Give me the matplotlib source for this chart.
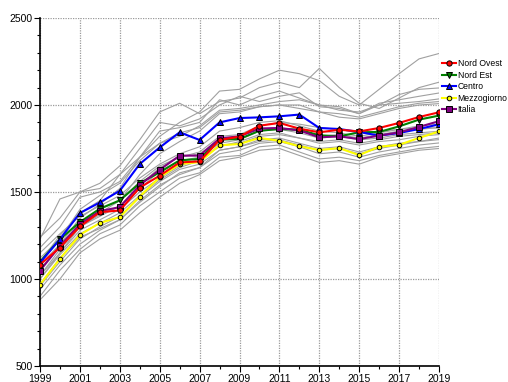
import matplotlib
matplotlib.use('Agg')
import matplotlib.pyplot as plt
from matplotlib.ticker import MultipleLocator

plt.rcParams['font.family'] = ['Liberation Sans', 'DejaVu Sans']

years = list(range(1999, 2020))

nord_ovest = [1083, 1181, 1302, 1384, 1394, 1525, 1594, 1670, 1676, 1799, 1818, 1881, 1897, 1864, 1843,
              1858, 1848, 1868, 1897, 1931, 1958]
nord_est = [1099, 1229, 1327, 1404, 1452, 1551, 1613, 1682, 1690, 1801, 1805, 1852, 1862, 1858, 1826,
            1820, 1843, 1845, 1877, 1916, 1939]
centro = [1093, 1229, 1379, 1440, 1507, 1661, 1756, 1843, 1799, 1900, 1925, 1929, 1935, 1945, 1868,
          1862, 1845, 1824, 1839, 1862, 1889]
mezzogiorno = [968, 1116, 1254, 1322, 1356, 1474, 1585, 1660, 1672, 1768, 1776, 1811, 1794, 1763, 1741,
               1752, 1712, 1760, 1771, 1811, 1848]
italia = [1048, 1190, 1315, 1390, 1413, 1540, 1628, 1709, 1709, 1808, 1820, 1865, 1868, 1854, 1814,
          1820, 1804, 1824, 1843, 1874, 1907]

# regioni (linee grigie)
regioni = [
    [1180, 1300, 1470, 1500, 1560, 1700, 1820, 1900, 1960, 2080, 2090, 2150, 2200, 2180, 2140, 2050, 2000, 2090, 2180, 2265, 2296],
    [1240, 1350, 1500, 1550, 1650, 1800, 1960, 2010, 1950, 2020, 2040, 2100, 2130, 2100, 2210, 2100, 2010, 1980, 2040, 2100, 2131],
    [1100, 1250, 1380, 1450, 1600, 1750, 1900, 1880, 1920, 2000, 2050, 2020, 2050, 2070, 1990, 1980, 1950, 2000, 2060, 2090, 2098],
    [1050, 1200, 1350, 1430, 1520, 1700, 1850, 1870, 1900, 2030, 2000, 2050, 2080, 2040, 2000, 1990, 1950, 2010, 2030, 2050, 2069],
    [1120, 1230, 1400, 1480, 1550, 1680, 1780, 1820, 1880, 1970, 1980, 2000, 2020, 2030, 2000, 1970, 1960, 2000, 2010, 2020, 2035],
    [1000, 1150, 1300, 1380, 1450, 1600, 1720, 1790, 1850, 1950, 1960, 1990, 2000, 2000, 1960, 1930, 1920, 1950, 1980, 2000, 2008],
    [1080, 1200, 1320, 1400, 1450, 1560, 1650, 1700, 1730, 1820, 1830, 1880, 1900, 1890, 1870, 1860, 1840, 1850, 1860, 1870, 1868],
    [1060, 1180, 1300, 1360, 1420, 1520, 1620, 1680, 1700, 1780, 1800, 1850, 1860, 1840, 1810, 1820, 1800, 1810, 1830, 1840, 1849],
    [1020, 1150, 1280, 1340, 1400, 1500, 1580, 1650, 1690, 1760, 1790, 1830, 1840, 1810, 1780, 1790, 1770, 1790, 1800, 1820, 1830],
    [960, 1100, 1230, 1300, 1360, 1470, 1560, 1630, 1660, 1740, 1760, 1800, 1810, 1780, 1750, 1760, 1730, 1760, 1780, 1790, 1801],
    [940, 1080, 1200, 1280, 1340, 1450, 1540, 1600, 1640, 1720, 1740, 1780, 1790, 1760, 1720, 1730, 1700, 1730, 1750, 1770, 1782],
    [900, 1050, 1170, 1260, 1310, 1420, 1500, 1580, 1610, 1700, 1710, 1760, 1770, 1730, 1690, 1700, 1680, 1710, 1730, 1750, 1762],
    [880, 1000, 1150, 1230, 1280, 1380, 1470, 1550, 1600, 1680, 1700, 1740, 1750, 1710, 1670, 1680, 1660, 1700, 1720, 1740, 1750],
    [1150, 1260, 1360, 1420, 1480, 1580, 1660, 1720, 1760, 1850, 1870, 1900, 1910, 1880, 1850, 1840, 1820, 1840, 1860, 1880, 1890],
    [1000, 1140, 1260, 1320, 1380, 1480, 1570, 1640, 1680, 1770, 1780, 1820, 1830, 1810, 1790, 1800, 1780, 1800, 1820, 1830, 1840],
    [1020, 1170, 1300, 1370, 1420, 1540, 1640, 1700, 1720, 1800, 1820, 1860, 1870, 1850, 1820, 1830, 1810, 1830, 1850, 1860, 1870],
    [1230, 1460, 1500, 1520, 1600, 1700, 1780, 1840, 1870, 1960, 1970, 1990, 2000, 1980, 1960, 1950, 1930, 1960, 1990, 2010, 2020],
    [970, 1120, 1240, 1290, 1340, 1440, 1530, 1610, 1640, 1740, 1760, 1790, 1800, 1770, 1740, 1750, 1720, 1750, 1770, 1790, 1810],
]

fig = plt.figure(figsize=(5.08, 3.82), dpi=100)
ax = fig.add_axes([40/508, 1 - 366/382, 399/508, 348/382])

for r in regioni:
    ax.plot(years, r, color='#a0a0a0', lw=0.8, zorder=2)

ms = 3.8
ax.plot(years, nord_ovest, color='red', lw=1.5, marker='o', ms=ms, mfc='red', mec='black', mew=0.7,
        label='Nord Ovest', zorder=4)
ax.plot(years, nord_est, color='green', lw=1.5, marker='v', ms=ms, mfc='green', mec='black', mew=0.7,
        label='Nord Est', zorder=3)
ax.plot(years, centro, color='blue', lw=1.5, marker='^', ms=ms, mfc='blue', mec='black', mew=0.7,
        label='Centro', zorder=3)
ax.plot(years, mezzogiorno, color='yellow', lw=1.5, marker='o', ms=3.3, mfc='yellow', mec='black', mew=0.7,
        label='Mezzogiorno', zorder=3)
ax.plot(years, italia, color='purple', lw=1.5, marker='s', ms=ms, mfc='purple', mec='black', mew=0.7,
        label='Italia', zorder=3)

ax.set_xlim(1999, 2019)
ax.set_ylim(500, 2500)
ax.set_xticks(range(1999, 2020, 2))
ax.xaxis.set_minor_locator(MultipleLocator(1))
ax.set_yticks([500, 1000, 1500, 2000, 2500])
ax.yaxis.set_minor_locator(MultipleLocator(100))
ax.grid(True, which='major', color='#9a9a9a', linestyle=(0, (1, 1)), lw=0.9)
ax.tick_params(which='both', direction='out', labelsize=7.5, width=0.8, pad=1.5)
ax.tick_params(which='major', length=4)
ax.tick_params(which='minor', length=2.5)
for s in ['top', 'right']:
    ax.spines[s].set_visible(False)
for s in ['left', 'bottom']:
    ax.spines[s].set_linewidth(1.2)

fig.legend(loc='upper left', bbox_to_anchor=(442/508, 1 - 59/382), frameon=False, fontsize=6.2,
           handlelength=1.6, handletextpad=0.2, labelspacing=0.3, borderaxespad=0, borderpad=0)

fig.savefig('out.png', dpi=100)
